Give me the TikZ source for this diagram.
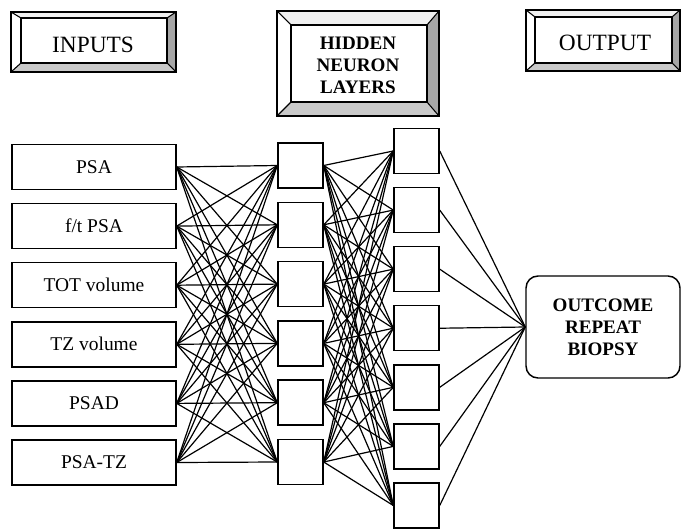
\documentclass[tikz,border=0pt]{standalone}
\usepackage{fontspec}
\setmainfont{Liberation Serif}
\newcommand{\bevbox}[8]{%
  \fill[white] (#1,#2) rectangle (#3,#4);
  \fill[gray!12] (#1,#2) -- (#3,#2) -- (#7,#6) -- (#5,#6) -- cycle;
  \fill[gray!70] (#3,#2) -- (#3,#4) -- (#7,#8) -- (#7,#6) -- cycle;
  \fill[gray!42] (#1,#4) -- (#3,#4) -- (#7,#8) -- (#5,#8) -- cycle;
  \draw[line width=1.1pt] (#1,#2) rectangle (#3,#4);
  \draw[line width=0.9pt] (#5,#6) rectangle (#7,#8);
  \draw[line width=0.8pt] (#1,#2)--(#5,#6) (#3,#2)--(#7,#6) (#3,#4)--(#7,#8) (#1,#4)--(#5,#8);
}
\begin{document}
\begin{tikzpicture}[x=0.75pt,y=-0.75pt,
  inbox/.style={draw,line width=1.1pt,minimum width=123pt,minimum height=33.75pt,inner sep=0pt,font=\fontsize{14.6}{16}\selectfont},
  neuron/.style={draw,line width=1.1pt,minimum width=33.75pt,minimum height=33.75pt,inner sep=0pt},
  outbox/.style={draw,line width=1.1pt,rounded corners=9pt,minimum width=115.5pt,minimum height=76.5pt,inner sep=0pt,align=center,font=\bfseries\fontsize{14.3}{16.5}\selectfont},
  headtext/.style={inner sep=0pt,font=\fontsize{17.5}{20}\selectfont},
  headbold/.style={inner sep=0pt,align=center,font=\bfseries\fontsize{14.3}{16.5}\selectfont},
  conn/.style={line width=0.9pt}]
\useasboundingbox (0,0) rectangle (681,531);
% header boxes
\bevbox{11}{12}{176}{72}{21}{18}{167}{63}
\node[headtext] (hin) at (93,45) {INPUTS};
\bevbox{277}{11}{439}{116}{291}{25}{427}{102}
\node[headbold] (hhid) at (358,65) {HIDDEN\\NEURON\\LAYERS};
\bevbox{526}{10}{680}{71}{535}{17}{672}{63}
\node[headtext] (hout) at (605,43) {OUTPUT};
% inputs
\node[inbox] (i1) at (94,167) {PSA};
\node[inbox] (i2) at (94,226.1) {f/t PSA};
\node[inbox] (i3) at (94,285.2) {TOT volume};
\node[inbox] (i4) at (94,344.3) {TZ volume};
\node[inbox] (i5) at (94,403.4) {PSAD};
\node[inbox] (i6) at (94,462.5) {PSA-TZ};
% hidden layer 1
\foreach \k in {1,...,6} {
  \node[neuron] (a\k) at (300.5,{165.5+59.3*(\k-1)}) {};
}
% hidden layer 2
\foreach \k in {1,...,7} {
  \node[neuron] (b\k) at (416.5,{151+59.08*(\k-1)}) {};
}
% output
\node[outbox] (out) at (603,327) {OUTCOME\\REPEAT\\BIOPSY};
% connections
\foreach \i in {1,...,6} {
  \foreach \j in {1,...,6} {
    \draw[conn] (i\i.east) -- (a\j.west);
  }
}
\foreach \i in {1,...,6} {
  \foreach \j in {1,...,7} {
    \draw[conn] (a\i.east) -- (b\j.west);
  }
}
\foreach \j in {1,...,7} {
  \draw[conn] (b\j.east) -- (out.west);
}
\end{tikzpicture}
\end{document}
